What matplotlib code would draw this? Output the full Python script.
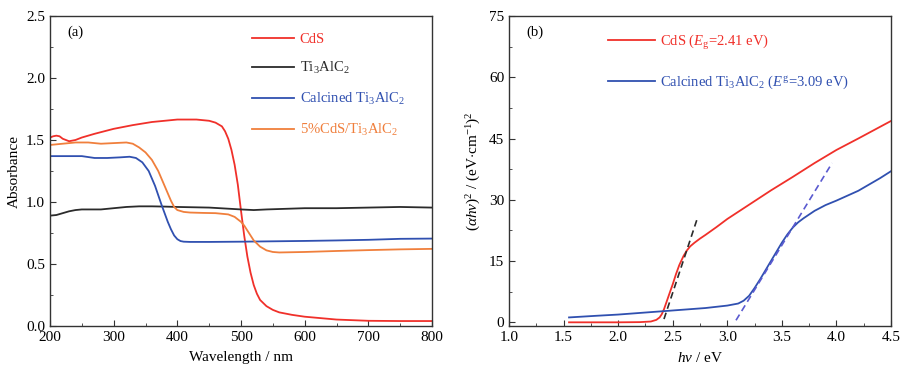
import matplotlib
matplotlib.use('Agg')
import matplotlib.pyplot as plt
from matplotlib.ticker import MultipleLocator

plt.rcParams['font.family'] = ['Liberation Serif', 'DejaVu Serif']
plt.rcParams['mathtext.fontset'] = 'custom'
plt.rcParams['mathtext.rm'] = 'Liberation Serif'
plt.rcParams['mathtext.it'] = 'Liberation Serif:italic'
plt.rcParams['font.size'] = 11

# (a) UV-vis absorbance
cds_wl = [200, 205, 210, 215, 220, 230, 240, 250, 270, 300, 330, 360, 400, 430, 450, 460, 470, 475,
          480, 485, 490, 495, 500, 505, 510, 515, 520, 525, 530, 540, 550, 560, 580, 600, 650, 700, 750, 800]
cds_abs = [1.52, 1.53, 1.535, 1.53, 1.51, 1.49, 1.50, 1.52, 1.55, 1.59, 1.62, 1.645, 1.665, 1.665, 1.655,
           1.64, 1.61, 1.57, 1.51, 1.42, 1.30, 1.14, 0.93, 0.73, 0.56, 0.43, 0.33, 0.26, 0.21, 0.16, 0.13,
           0.11, 0.09, 0.075, 0.052, 0.042, 0.04, 0.04]

ti_wl = [200, 210, 220, 230, 240, 250, 260, 280, 300, 320, 340, 360, 380, 400, 450, 500, 520, 540,
         600, 650, 700, 750, 800]
ti_abs = [0.89, 0.895, 0.91, 0.925, 0.935, 0.94, 0.94, 0.94, 0.95, 0.96, 0.965, 0.965, 0.963, 0.96,
          0.955, 0.94, 0.935, 0.94, 0.95, 0.95, 0.955, 0.96, 0.955]

cal_wl = [200, 220, 250, 270, 290, 310, 325, 335, 345, 355, 365, 375, 380, 385, 390, 395, 400, 405,
          410, 420, 450, 500, 550, 600, 650, 700, 750, 800]
cal_abs = [1.37, 1.37, 1.37, 1.355, 1.355, 1.36, 1.365, 1.355, 1.32, 1.25, 1.13, 0.98, 0.91, 0.84,
           0.78, 0.73, 0.70, 0.685, 0.68, 0.678, 0.678, 0.68, 0.683, 0.686, 0.69, 0.695, 0.703, 0.705]

mix_wl = [200, 220, 240, 260, 280, 300, 320, 330, 340, 350, 360, 370, 380, 390, 395, 400, 410, 420,
          440, 460, 480, 490, 500, 505, 510, 520, 530, 540, 550, 560, 600, 650, 700, 750, 800]
mix_abs = [1.46, 1.47, 1.48, 1.48, 1.47, 1.475, 1.48, 1.47, 1.44, 1.40, 1.34, 1.25, 1.13, 1.01, 0.96,
           0.935, 0.92, 0.915, 0.912, 0.91, 0.9, 0.88, 0.84, 0.81, 0.77, 0.69, 0.64, 0.61, 0.597,
           0.593, 0.597, 0.605, 0.612, 0.618, 0.622]

# (b) Tauc plot
cds_e = [1.55, 1.8, 2.0, 2.2, 2.3, 2.35, 2.38, 2.40, 2.42, 2.45, 2.48, 2.50, 2.53, 2.56, 2.60, 2.63,
         2.66, 2.70, 2.75, 2.8, 2.9, 3.0, 3.2, 3.4, 3.6, 3.8, 4.0, 4.2, 4.5]
cds_t = [0, 0, 0, 0.05, 0.2, 0.6, 1.2, 2.0, 3.2, 5.5, 7.8, 9.3, 11.8, 14, 16.3, 17.6, 18.6, 19.5,
         20.5, 21.4, 23.3, 25.3, 28.8, 32.3, 35.6, 39.0, 42.2, 45.0, 49.3]

cal_e = [1.55, 1.8, 2.0, 2.2, 2.5, 2.8, 3.0, 3.1, 3.15, 3.2, 3.25, 3.3, 3.4, 3.5, 3.55, 3.6, 3.65,
         3.7, 3.8, 3.9, 4.0, 4.2, 4.4, 4.5]
cal_t = [1.2, 1.6, 1.9, 2.3, 2.9, 3.5, 4.1, 4.6, 5.3, 6.5, 8.4, 10.5, 15, 19.5, 21.5, 23.2, 24.5,
         25.5, 27.3, 28.7, 29.8, 32.2, 35.3, 37]

# tangent lines (end points)
cds_fit_e = [2.42, 2.72]
cds_fit_t = [0.8, 25]
cal_fit_e = [3.08, 3.96]
cal_fit_t = [0.5, 39]

red = '#f0302a'
black = '#2b2b2b'
blue = '#3050b0'
orange = '#f07f3c'

fig = plt.figure(figsize=(9.05, 3.71), dpi=100)
ax1 = fig.add_axes([50 / 905, 45 / 371, 382 / 905, 310 / 371])
ax2 = fig.add_axes([509 / 905, 45 / 371, 382 / 905, 310 / 371])

ax1.plot(cds_wl, cds_abs, color=red, lw=1.3, label='CdS')
ax1.plot(ti_wl, ti_abs, color=black, lw=1.3, label='Ti$_3$AlC$_2$')
ax1.plot(cal_wl, cal_abs, color=blue, lw=1.3, label='Calcined Ti$_3$AlC$_2$')
ax1.plot(mix_wl, mix_abs, color=orange, lw=1.3, label='5%CdS/Ti$_3$AlC$_2$')
ax1.set_xlim(200, 800)
ax1.set_ylim(0, 2.5)
ax1.xaxis.set_major_locator(MultipleLocator(100))
ax1.xaxis.set_minor_locator(MultipleLocator(50))
ax1.yaxis.set_major_locator(MultipleLocator(0.5))
ax1.yaxis.set_minor_locator(MultipleLocator(0.25))
ax1.yaxis.set_major_formatter(matplotlib.ticker.FormatStrFormatter('%.1f'))
ax1.set_xlabel('Wavelength / nm', labelpad=5)
ax1.set_ylabel('Absorbance')
ax1.text(0.045, 0.935, '(a)', transform=ax1.transAxes, fontsize=10.5)
ax1.legend(loc='upper left', bbox_to_anchor=(0.51, 0.97), frameon=False, labelcolor='linecolor',
           handlelength=2.9, handletextpad=0.35, labelspacing=1.0, borderpad=0, fontsize=10.5)

ax2.plot(cds_e, cds_t, color=red, lw=1.3, label='CdS ($E_{\\rm g}$=2.41 eV)')
ax2.plot(cal_e, cal_t, color=blue, lw=1.3, label='Calcined Ti$_3$AlC$_2$ ($E^{\\rm g}$=3.09 eV)')
ax2.plot(cds_fit_e, cds_fit_t, color=black, lw=1.2, ls=(0, (4, 2.5)))
ax2.plot(cal_fit_e, cal_fit_t, color='#5a5ad0', lw=1.2, ls=(0, (4, 2.5)))
ax2.set_xlim(1.0, 4.5)
ax2.set_ylim(-0.9, 75)
ax2.xaxis.set_major_locator(MultipleLocator(0.5))
ax2.xaxis.set_minor_locator(MultipleLocator(0.25))
ax2.yaxis.set_major_locator(MultipleLocator(15))
ax2.yaxis.set_minor_locator(MultipleLocator(7.5))
ax2.xaxis.set_major_formatter(matplotlib.ticker.FormatStrFormatter('%.1f'))
ax2.set_xlabel('$h\\nu$ / eV', labelpad=5)
ax2.set_ylabel('$(\\alpha h\\nu)^2$ / (eV$\\cdot$cm$^{-1}$)$^2$')
ax2.text(0.045, 0.935, '(b)', transform=ax2.transAxes, fontsize=10.5)
ax2.legend(loc='upper left', bbox_to_anchor=(0.24, 0.97), frameon=False, labelcolor='linecolor',
           handlelength=3.2, handletextpad=0.35, labelspacing=1.5, borderpad=0, fontsize=10.5)

for ax in (ax1, ax2):
    for s in ax.spines.values():
        s.set_color('#333333')
        s.set_linewidth(1.0)
    ax.tick_params(which='both', direction='in', colors='#333333', labelcolor='black')
    ax.tick_params(which='major', length=4)
    ax.tick_params(which='minor', length=2.5)

fig.savefig('out.png', dpi=100)
